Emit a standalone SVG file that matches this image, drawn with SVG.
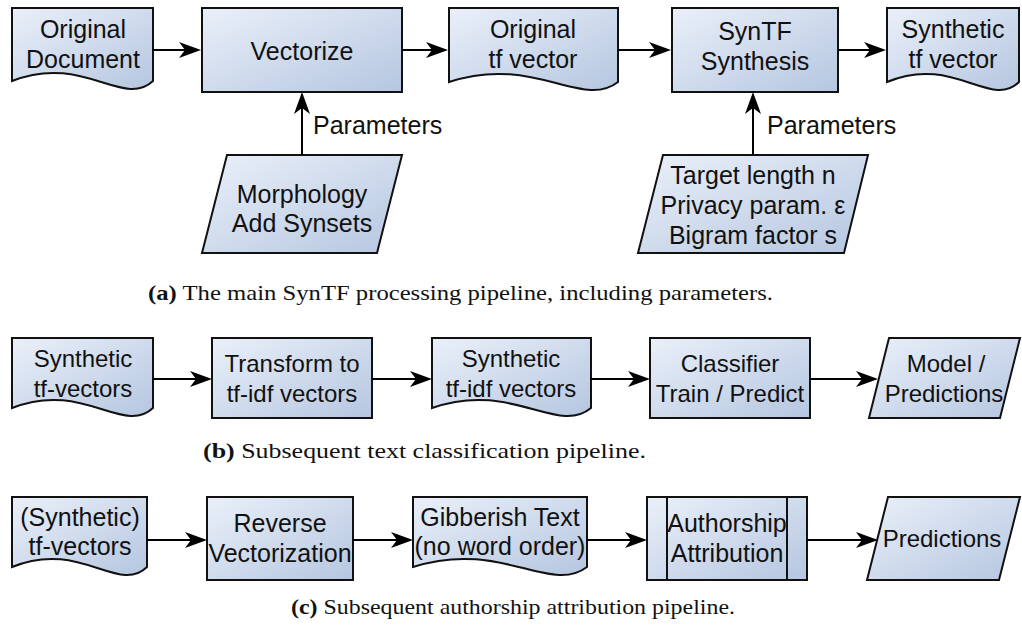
<svg xmlns="http://www.w3.org/2000/svg" width="1022" height="626" viewBox="0 0 1022 626">
<defs>
<linearGradient id="g" x1="0" y1="0" x2="1" y2="1">
<stop offset="0" stop-color="#eaf0f9"/>
<stop offset="1" stop-color="#b5c6e0"/>
</linearGradient>
<marker id="ah" markerWidth="22" markerHeight="16" refX="12" refY="8" orient="auto" markerUnits="userSpaceOnUse">
<path d="M0,0 L22,8 L0,16 L6,8 z" fill="#000"/>
</marker>
<style>
.s{fill:url(#g);stroke:#111;stroke-width:2;stroke-linejoin:miter}
.t{font-family:"Liberation Sans",Arial,sans-serif;font-size:25px;fill:#111;text-anchor:middle}
.m{font-size:24px}
.l{font-family:"Liberation Sans",Arial,sans-serif;font-size:25px;fill:#111}
.c{font-family:"Liberation Serif","Times New Roman",serif;font-size:22px;fill:#111}
.e{stroke:#000;stroke-width:2;fill:none;marker-end:url(#ah)}
</style>
</defs>
<rect width="1022" height="626" fill="#fff"/>

<g id="origdoc">
<path class="s" d="M12,8 H153 V81 C123,109 83,53 12,81 Z"/>
<text class="t" x="83" y="38">Original</text>
<text class="t" x="83" y="68">Document</text>
</g>
<g id="vectorize">
<rect class="s" x="202" y="8" width="200" height="84"/>
<text class="t" x="302" y="60">Vectorize</text>
</g>
<g id="origtf">
<path class="s" d="M449,8 H618 V82 C582,110 534,54 449,82 Z"/>
<text class="t" x="533" y="38">Original</text>
<text class="t" x="533" y="68">tf vector</text>
</g>
<g id="syntf">
<rect class="s" x="672" y="8" width="166" height="84"/>
<text class="t" x="755" y="40">SynTF</text>
<text class="t" x="755" y="70">Synthesis</text>
</g>
<g id="syntfvec">
<path class="s" d="M887,8 H1019 V82 C991,110 953,54 887,82 Z"/>
<text class="t" x="953" y="38">Synthetic</text>
<text class="t" x="953" y="68">tf vector</text>
</g>
<g id="morph">
<polygon class="s" points="227,155 402,155 377,253 202,253"/>
<text class="t" x="302" y="203">Morphology</text>
<text class="t" x="302" y="232">Add Synsets</text>
</g>
<g id="params">
<polygon class="s" points="663,155 868,155 844,253 638,253"/>
<text class="t" x="753" y="184">Target length n</text>
<text class="t" x="753" y="214">Privacy param. ε</text>
<text class="t" x="753" y="244">Bigram factor s</text>
</g>

<g id="b-syn">
<path class="s" d="M12,338 H153 V408 C123,436 83,380 12,408 Z"/>
<text class="t m" x="83" y="367">Synthetic</text>
<text class="t m" x="83" y="397">tf-vectors</text>
</g>
<g id="b-transform">
<rect class="s" x="212" y="338" width="160" height="80"/>
<text class="t m" x="292" y="372">Transform to</text>
<text class="t m" x="292" y="402">tf-idf vectors</text>
</g>
<g id="b-synidf">
<path class="s" d="M432,338 H591 V408 C557,436 512,380 432,408 Z"/>
<text class="t m" x="511" y="367">Synthetic</text>
<text class="t m" x="511" y="397">tf-idf vectors</text>
</g>
<g id="b-classifier">
<rect class="s" x="650" y="338" width="160" height="80"/>
<text class="t m" x="730" y="372">Classifier</text>
<text class="t m" x="730" y="402">Train / Predict</text>
</g>
<g id="b-model">
<polygon class="s" points="889,338 1020,338 1000,418 869,418"/>
<text class="t m" x="946" y="372">Model /</text>
<text class="t m" x="944" y="402">Predictions</text>
</g>

<g id="c-syn">
<path class="s" d="M12,497 H147 V567 C118,595 80,539 12,567 Z"/>
<text class="t" x="80" y="526">(Synthetic)</text>
<text class="t" x="80" y="555">tf-vectors</text>
</g>
<g id="c-reverse">
<rect class="s" x="207" y="497" width="146" height="83"/>
<text class="t" x="280" y="532">Reverse</text>
<text class="t" x="280" y="562">Vectorization</text>
</g>
<g id="c-gibberish">
<path class="s" d="M413,497 H587 V567 C550,595 501,539 413,567 Z"/>
<text class="t" x="500" y="526">Gibberish Text</text>
<text class="t" x="500" y="555">(no word order)</text>
</g>
<g id="c-authorship">
<rect class="s" x="647" y="497" width="160" height="83"/>
<line x1="667" y1="497" x2="667" y2="580" stroke="#111" stroke-width="2"/>
<line x1="787" y1="497" x2="787" y2="580" stroke="#111" stroke-width="2"/>
<text class="t" x="727" y="532">Authorship</text>
<text class="t" x="727" y="562">Attribution</text>
</g>
<g id="c-predictions">
<polygon class="s" points="888,497 1020,497 999,580 867,580"/>
<text class="t m" x="942" y="547">Predictions</text>
</g>

<g id="connectors">
<line class="e" x1="153" y1="50" x2="191" y2="50"/>
<line class="e" x1="402" y1="50" x2="438" y2="50"/>
<line class="e" x1="618" y1="50" x2="661" y2="50"/>
<line class="e" x1="838" y1="50" x2="876" y2="50"/>
<line class="e" x1="302" y1="155" x2="302" y2="102"/>
<line class="e" x1="753" y1="155" x2="753" y2="102"/>
<line class="e" x1="153" y1="379" x2="202" y2="379"/>
<line class="e" x1="372" y1="379" x2="422" y2="379"/>
<line class="e" x1="591" y1="379" x2="640" y2="379"/>
<line class="e" x1="810" y1="379" x2="868" y2="379"/>
<line class="e" x1="147" y1="540" x2="197" y2="540"/>
<line class="e" x1="353" y1="540" x2="403" y2="540"/>
<line class="e" x1="587" y1="540" x2="637" y2="540"/>
<line class="e" x1="807" y1="540" x2="868" y2="540"/>
<text class="l" x="313" y="134">Parameters</text>
<text class="l" x="767" y="134">Parameters</text>
</g>

<text class="c" x="148" y="300" textLength="625" lengthAdjust="spacingAndGlyphs"><tspan font-weight="bold">(a)</tspan> The main SynTF processing pipeline, including parameters.</text>
<text class="c" x="203" y="458" textLength="443" lengthAdjust="spacingAndGlyphs"><tspan font-weight="bold">(b)</tspan> Subsequent text classification pipeline.</text>
<text class="c" x="291" y="614" textLength="444" lengthAdjust="spacingAndGlyphs"><tspan font-weight="bold">(c)</tspan> Subsequent authorship attribution pipeline.</text>
</svg>
